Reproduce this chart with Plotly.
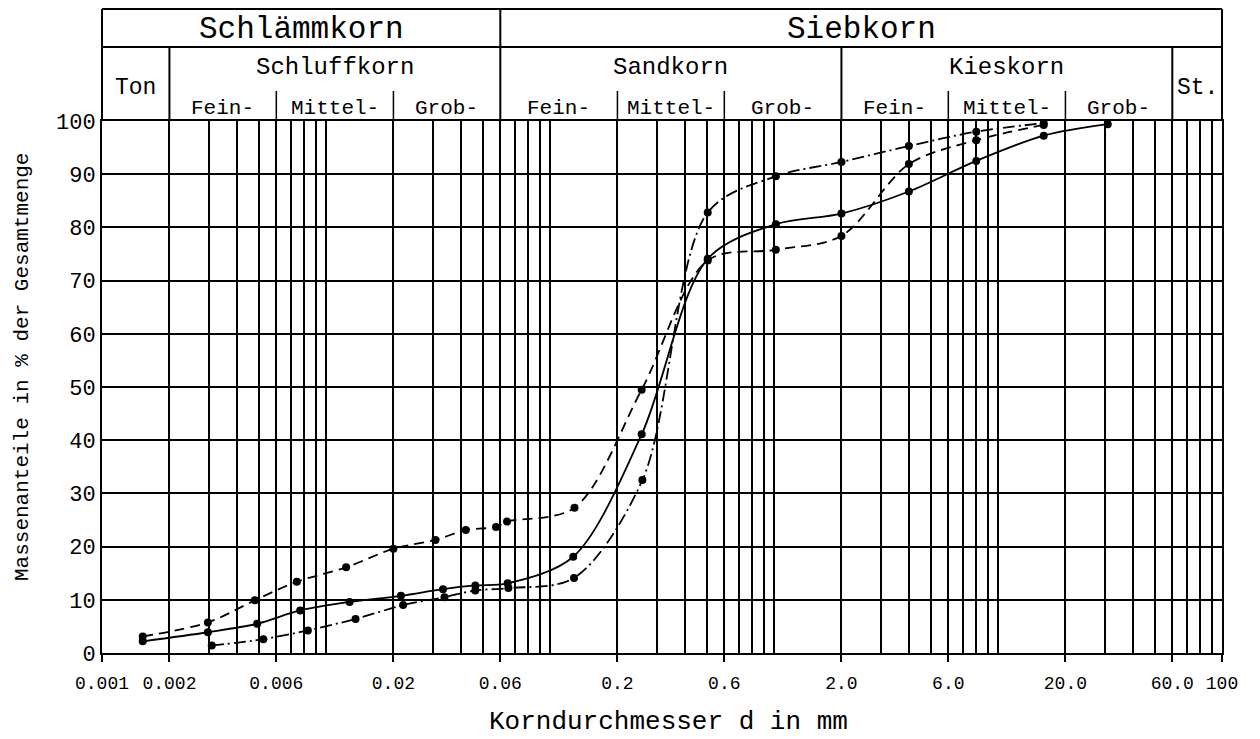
import numpy as np
import plotly.graph_objects as go

# ---------------- data ----------------
d_dashed = [0.00152, 0.00297, 0.00481, 0.00741, 0.0123, 0.0200, 0.0308, 0.0421,
            0.0574, 0.0643, 0.1286, 0.2566, 0.506, 1.019, 2.0, 4.0, 8.0, 16.0]
p_dashed = [3.1, 5.75, 9.9, 13.4, 16.1, 19.6, 21.25, 23.1,
            23.7, 24.7, 27.3, 49.5, 73.8, 75.8, 78.4, 91.9, 96.4, 99.25]

d_solid = [0.00152, 0.00297, 0.00493, 0.00767, 0.01274, 0.0216, 0.0333, 0.0464,
           0.0647, 0.127, 0.2566, 0.506, 1.019, 2.0, 4.0, 8.0, 16.0, 30.9]
p_solid = [2.2, 3.9, 5.5, 8.0, 9.6, 10.75, 12.0, 12.7,
           13.1, 18.1, 41.1, 74.1, 80.6, 82.6, 86.75, 92.5, 97.25, 99.4]

d_dashdot = [0.00309, 0.00525, 0.0083, 0.01355, 0.0221, 0.0338, 0.0464, 0.0652,
             0.128, 0.2585, 0.506, 1.019, 2.0, 4.0, 8.0, 16.0]
p_dashdot = [1.4, 2.6, 4.25, 6.4, 9.0, 10.5, 11.75, 12.2,
             14.1, 32.5, 82.8, 89.6, 92.3, 95.3, 98.0, 99.6]

x_tickvals = [0.001, 0.002, 0.006, 0.02, 0.06, 0.2, 0.6, 2, 6, 20, 60, 100]
x_ticktext = ["0.001", "0.002", "0.006", "0.02", "0.06", "0.2", "0.6",
              "2.0", "6.0", "20.0", "60.0", "100"]
y_tickvals = [0, 10, 20, 30, 40, 50, 60, 70, 80, 90, 100]

# header table
top_labels = ["Schlämmkorn", "Siebkorn"]
top_bounds = [0.001, 0.06, 100]
mid_labels = ["Ton", "Schluffkorn", "Sandkorn", "Kieskorn", "St."]
mid_bounds = [0.001, 0.002, 0.06, 2, 60, 100]
sub_labels = ["Fein-", "Mittel-", "Grob-"]
sub_bounds = [[0.002, 0.006, 0.02, 0.06], [0.06, 0.2, 0.6, 2], [2, 6, 20, 60]]

FONT = "Liberation Mono"

# ---------------- layout geometry ----------------
W, H = 1260, 739
L, R, T, B = 102, 38, 121, 86
plot_h = H - T - B


def py(pix):  # pixel row -> paper y
    return (H - B - pix) / plot_h


y_top = py(9)
y_row1 = py(47)
y_sub = py(91)

fig = go.Figure()

line_common = dict(color="black", width=1.8, shape="spline", smoothing=0.9)
mk = dict(color="black", size=8)
fig.add_trace(go.Scatter(x=d_dashed, y=p_dashed, mode="lines+markers",
                         line=dict(dash="10px,6px", **line_common), marker=mk,
                         cliponaxis=False, showlegend=False))
fig.add_trace(go.Scatter(x=d_solid, y=p_solid, mode="lines+markers",
                         line=dict(dash="solid", **line_common), marker=mk,
                         cliponaxis=False, showlegend=False))
fig.add_trace(go.Scatter(x=d_dashdot, y=p_dashdot, mode="lines+markers",
                         line=dict(dash="12px,4px,2px,4px", **line_common), marker=mk,
                         cliponaxis=False, showlegend=False))

shapes = []
lw = 2
# outer header frame
shapes.append(dict(type="line", xref="paper", yref="paper", x0=0, x1=1, y0=y_top, y1=y_top,
                   line=dict(color="black", width=lw)))
shapes.append(dict(type="line", xref="paper", yref="paper", x0=0, x1=1, y0=y_row1, y1=y_row1,
                   line=dict(color="black", width=lw)))
shapes.append(dict(type="line", xref="paper", yref="paper", x0=0, x1=0, y0=1, y1=y_top,
                   line=dict(color="black", width=lw)))
shapes.append(dict(type="line", xref="paper", yref="paper", x0=1, x1=1, y0=1, y1=y_top,
                   line=dict(color="black", width=lw)))
# top divider
for b in top_bounds[1:-1]:
    shapes.append(dict(type="line", xref="x", yref="paper", x0=b, x1=b, y0=1, y1=y_top,
                       line=dict(color="black", width=lw)))
# mid dividers
for b in mid_bounds[1:-1]:
    if b in top_bounds:
        continue
    shapes.append(dict(type="line", xref="x", yref="paper", x0=b, x1=b, y0=1, y1=y_row1,
                       line=dict(color="black", width=lw)))
# sub dividers
for sb in sub_bounds:
    for b in sb[1:-1]:
        shapes.append(dict(type="line", xref="x", yref="paper", x0=b, x1=b, y0=1, y1=y_sub,
                           line=dict(color="black", width=1.5)))

ann = []


def gm(a, b):
    return (np.log10(a) + np.log10(b)) / 2


for i, t in enumerate(top_labels):
    ann.append(dict(text=t, xref="x", yref="paper", x=gm(top_bounds[i], top_bounds[i + 1]),
                    y=py(29), xanchor="center", yanchor="middle", showarrow=False,
                    font=dict(family=FONT, size=31, color="black")))
for i, t in enumerate(mid_labels):
    if t in ("Ton", "St."):
        yy = py(88)
        sz = 23
    else:
        yy = py(67)
        sz = 24
    ann.append(dict(text=t, xref="x", yref="paper", x=gm(mid_bounds[i], mid_bounds[i + 1]),
                    y=yy, xanchor="center", yanchor="middle", showarrow=False,
                    font=dict(family=FONT, size=sz, color="black")))
for sb in sub_bounds:
    for j, t in enumerate(sub_labels):
        ann.append(dict(text=t, xref="x", yref="paper", x=gm(sb[j], sb[j + 1]),
                        y=py(108), xanchor="center", yanchor="middle", showarrow=False,
                        font=dict(family=FONT, size=21, color="black")))

# axis titles
ann.append(dict(text="Korndurchmesser d in mm", xref="paper", yref="paper",
                x=(668 - L) / (W - L - R), y=py(722), xanchor="center", yanchor="middle",
                showarrow=False, font=dict(family=FONT, size=26, color="black")))
ann.append(dict(text="Massenanteile in % der Gesamtmenge", xref="paper", yref="paper",
                x=(22 - L) / (W - L - R), y=py(367), xanchor="center", yanchor="middle",
                textangle=-90, showarrow=False, font=dict(family=FONT, size=21, color="black")))

fig.update_layout(
    width=W, height=H,
    margin=dict(l=L, r=R, t=T, b=B),
    paper_bgcolor="white", plot_bgcolor="white",
    shapes=shapes, annotations=ann,
    xaxis=dict(type="log", range=[np.log10(0.001), np.log10(100)],
               tickmode="array", tickvals=x_tickvals, ticktext=x_ticktext, tickangle=0,
               ticks="outside", ticklen=7, tickwidth=2, tickcolor="black",
               ticklabelstandoff=5,
               showgrid=True, gridcolor="black", gridwidth=2,
               minor=dict(dtick="D1", showgrid=True, gridcolor="black", gridwidth=2, ticks=""),
               showline=True, mirror=True, linecolor="black", linewidth=2,
               zeroline=False, tickfont=dict(family=FONT, size=18, color="black")),
    yaxis=dict(range=[0, 100], tickmode="array", tickvals=y_tickvals,
               showgrid=True, gridcolor="black", gridwidth=1.7,
               showline=True, mirror=True, linecolor="black", linewidth=2,
               zeroline=False, ticks="", ticklabelstandoff=0,
               tickfont=dict(family=FONT, size=22, color="black")),
)

fig.write_html("out.html", config={"displayModeBar": False},
               post_script="document.body.style.margin='0px';")
